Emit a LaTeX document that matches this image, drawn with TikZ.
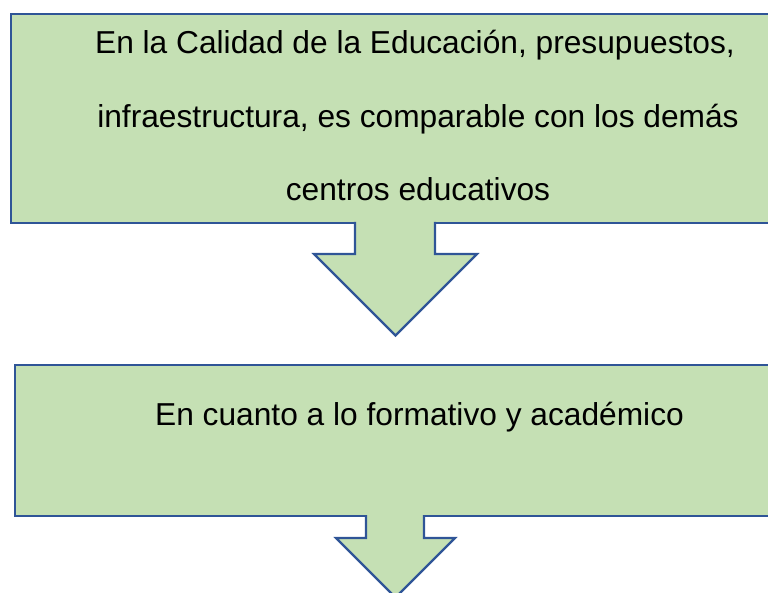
\documentclass[tikz,border=0pt]{standalone}
\usepackage{fontspec}
\setmainfont{Liberation Sans}
\definecolor{boxfill}{HTML}{C5E0B4}
\definecolor{boxline}{HTML}{2F5597}
\begin{document}
\begin{tikzpicture}[x=1pt,y=-1pt,
  greenbox/.style={draw=boxline,fill=boxfill,line width=2.2pt,rectangle,inner sep=0pt},
  txt/.style={anchor=base,inner sep=0pt,font=\fontsize{31.7}{38}\selectfont},
  arrowfill/.style={fill=boxfill,draw=none},
  arrowline/.style={draw=boxline,line width=2.2pt,line join=miter}]
\useasboundingbox (0,0) rectangle (768,593);
\clip (0,0) rectangle (768,593);
% boxes
\node[greenbox,minimum width=780pt,minimum height=209pt,anchor=north west] (box1) at (10,13) {};
\node[greenbox,minimum width=780pt,minimum height=151pt,anchor=north west] (box2) at (14,364) {};
% arrow 1
\coordinate (a1l) at (355,222);
\coordinate (a1r) at (435,222);
\fill[arrowfill] (355,218) -- (355,254) -- (314,254) -- (395.5,335.5) -- (477,254) -- (435,254) -- (435,218) -- cycle;
\draw[arrowline] (a1l) -- (355,254) -- (314,254) -- (395.5,335.5) -- (477,254) -- (435,254) -- (a1r);
% arrow 2
\coordinate (a2l) at (366,515);
\coordinate (a2r) at (424,515);
\fill[arrowfill] (366,511) -- (366,538) -- (336,538) -- (395.5,597.5) -- (455,538) -- (424,538) -- (424,511) -- cycle;
\draw[arrowline] (a2l) -- (366,538) -- (336,538) -- (395.5,597.5) -- (455,538) -- (424,538) -- (a2r);
% texts
\node[txt] (t1) at (415,54) {En la Calidad de la Educación, presupuestos,};
\node[txt] (t2) at (418,128) {infraestructura, es comparable con los demás};
\node[txt] (t3) at (418,201) {centros educativos};
\node[txt] (t4) at (419.5,425) {En cuanto a lo formativo y académico};
\end{tikzpicture}
\end{document}
